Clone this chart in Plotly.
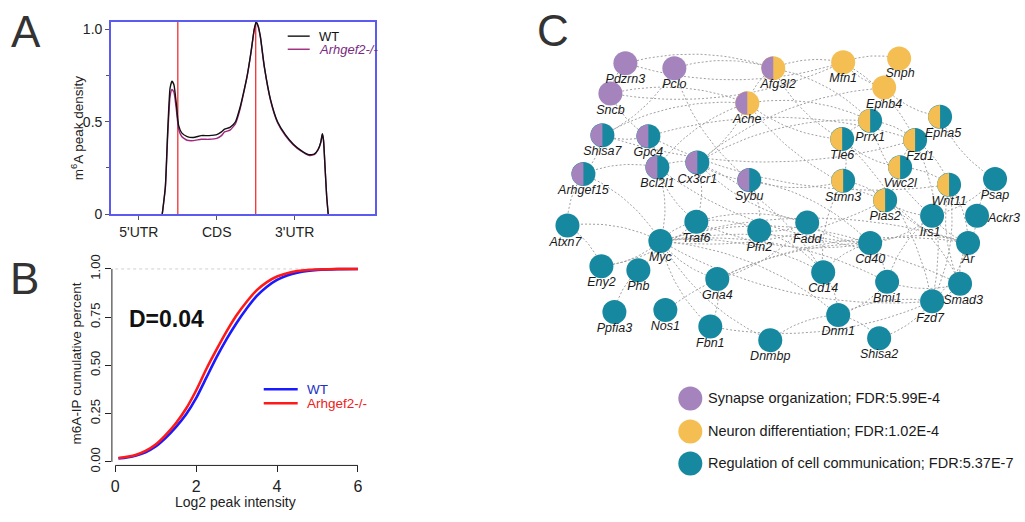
import numpy as np
import plotly.graph_objects as go

W, H = 1025, 522
def px(x): return x / W
def py(y): return 1 - y / H

FONT = "Arial, Liberation Sans, sans-serif"

# ---------------- Panel A data (metagene profile) ----------------
a_regions = ["5'UTR", "CDS", "3'UTR"]
a_region_centers = [0.5, 1.5, 2.5]
a_boundaries = [1, 2]
a_pos = [0.80, 0.84, 0.87, 0.90, 0.925, 0.95, 0.98, 1.01, 1.05, 1.12, 1.20, 1.30, 1.40, 1.50,
         1.56, 1.60, 1.67, 1.74, 1.80, 1.85, 1.89, 1.94, 1.98, 2.005, 2.03, 2.06, 2.11, 2.19,
         2.28, 2.38, 2.48, 2.58, 2.68, 2.75, 2.80, 2.835, 2.855, 2.87, 2.89, 2.91, 2.93]
a_wt = [0.0, 0.15, 0.45, 0.68, 0.72, 0.70, 0.60, 0.48, 0.44, 0.42, 0.415, 0.425, 0.425, 0.43,
        0.445, 0.46, 0.47, 0.50, 0.58, 0.67, 0.75, 0.88, 1.0, 1.04, 1.02, 0.96, 0.80, 0.62,
        0.50, 0.43, 0.38, 0.345, 0.322, 0.325, 0.35, 0.39, 0.435, 0.40, 0.25, 0.10, 0.0]
a_ko = [0.0, 0.14, 0.42, 0.635, 0.675, 0.66, 0.57, 0.46, 0.42, 0.40, 0.398, 0.405, 0.405, 0.41,
        0.425, 0.445, 0.455, 0.49, 0.57, 0.665, 0.745, 0.875, 0.995, 1.035, 1.015, 0.955, 0.795, 0.615,
        0.495, 0.425, 0.376, 0.342, 0.318, 0.322, 0.348, 0.388, 0.433, 0.398, 0.25, 0.10, 0.0]
a_series = ["WT", "Arhgef2-/-"]

# ---------------- Panel B data (cumulative distribution) ----------------
b_x = [0.08, 0.25, 0.5, 0.75, 1.0, 1.25, 1.5, 1.75, 2.0, 2.25, 2.5, 2.75, 3.0, 3.25, 3.5,
       3.75, 4.0, 4.25, 4.5, 4.75, 5.0, 5.5, 6.0]
b_wt = [0.018, 0.022, 0.032, 0.05, 0.08, 0.125, 0.18, 0.245, 0.33, 0.435, 0.54, 0.635, 0.72,
        0.795, 0.86, 0.908, 0.943, 0.966, 0.981, 0.99, 0.995, 0.999, 1.0]
b_ko = [0.02, 0.025, 0.036, 0.057, 0.09, 0.14, 0.20, 0.275, 0.37, 0.48, 0.58, 0.675, 0.76,
        0.83, 0.89, 0.932, 0.961, 0.978, 0.989, 0.995, 0.997, 0.9995, 1.0]
b_stat = "D=0.04"
b_series = ["WT", "Arhgef2-/-"]

# ---------------- Panel C data (gene network) ----------------
categories = ["Synapse organization; FDR:5.99E-4",
              "Neuron differentiation; FDR:1.02E-4",
              "Regulation of cell communication; FDR:5.37E-7"]
cat_keys = ["P", "N", "R"]
genes = ["Pdzrn3", "Pclo", "Afg3l2", "Sncb", "Ache", "Shisa7", "Gpc4", "Bcl2l1", "Cx3cr1",
         "Arhgef15", "Sybu", "Mfn1", "Snph", "Ephb4", "Prrx1", "Epha5", "Tle6", "Fzd1", "Vwc2l",
         "Stmn3", "Wnt11", "Psap", "Atxn7", "Traf6", "Pfn2", "Myc", "Eny2", "Phb", "Gna4",
         "Ppfia3", "Nos1", "Fbn1", "Dnmbp", "Pias2", "Fadd", "Irs1", "Ackr3", "Cd40", "Ar",
         "Cd14", "Bmi1", "Smad3", "Fzd7", "Dnm1", "Shisa2"]
gene_groups = ["P", "P", "PN", "P", "PN", "PR", "PR", "PR", "PR",
               "PR", "PR", "N", "N", "N", "NR", "NR", "NR", "NR", "NR",
               "NR", "NR", "R", "R", "R", "R", "R", "R", "R", "R",
               "R", "R", "R", "R", "NR", "R", "R", "R", "R", "R",
               "R", "R", "R", "R", "R", "R"]
# network layout coordinates
layout_x = [625, 674, 773, 610, 747, 602, 648, 657, 697,
            583, 749, 843, 899, 884, 870, 940, 842, 915, 900,
            843, 949, 995, 567, 696, 759, 660, 601, 638, 717,
            614, 665, 710, 770, 885, 807, 932, 977, 870, 968,
            823, 887, 960, 932, 838, 879]
layout_y = [58, 63, 63, 89, 99, 132, 133, 165, 160,
            172, 178, 57, 53, 83, 117, 113, 136, 137, 165,
            179, 183, 177, 225, 221, 230, 241, 267, 271, 280,
            314, 312, 329, 343, 199, 222, 215, 215, 243, 243,
            273, 283, 285, 303, 317, 341]
edges = [
    ("Pdzrn3", "Sncb"), ("Pdzrn3", "Afg3l2"), ("Pdzrn3", "Mfn1"), ("Pclo", "Afg3l2"),
    ("Pclo", "Sybu"), ("Pclo", "Shisa7"), ("Sncb", "Gpc4"), ("Sncb", "Ache"), ("Sncb", "Mfn1"),
    ("Afg3l2", "Mfn1"), ("Afg3l2", "Ache"), ("Afg3l2", "Prrx1"), ("Afg3l2", "Tle6"),
    ("Mfn1", "Snph"), ("Mfn1", "Ephb4"), ("Mfn1", "Fzd1"), ("Ephb4", "Epha5"),
    ("Ephb4", "Prrx1"), ("Ephb4", "Cx3cr1"), ("Ache", "Prrx1"), ("Ache", "Tle6"),
    ("Ache", "Cx3cr1"), ("Ache", "Bcl2l1"), ("Shisa7", "Ache"), ("Shisa7", "Fzd1"),
    ("Shisa7", "Arhgef15"), ("Shisa7", "Gpc4"), ("Gpc4", "Bcl2l1"), ("Gpc4", "Wnt11"),
    ("Gpc4", "Fzd1"), ("Bcl2l1", "Arhgef15"), ("Bcl2l1", "Cx3cr1"), ("Bcl2l1", "Traf6"),
    ("Bcl2l1", "Myc"), ("Bcl2l1", "Cd40"), ("Cx3cr1", "Traf6"), ("Cx3cr1", "Sybu"),
    ("Cx3cr1", "Cd14"), ("Cx3cr1", "Fadd"), ("Cx3cr1", "Prrx1"), ("Sybu", "Stmn3"),
    ("Sybu", "Pfn2"), ("Arhgef15", "Atxn7"), ("Arhgef15", "Myc"), ("Prrx1", "Tle6"),
    ("Prrx1", "Fzd1"), ("Prrx1", "Irs1"), ("Tle6", "Stmn3"), ("Tle6", "Vwc2l"),
    ("Tle6", "Fzd7"), ("Fzd1", "Epha5"), ("Fzd1", "Wnt11"), ("Fzd1", "Vwc2l"),
    ("Fzd1", "Fzd7"), ("Epha5", "Psap"), ("Vwc2l", "Wnt11"), ("Vwc2l", "Pias2"),
    ("Stmn3", "Pias2"), ("Stmn3", "Cd14"), ("Wnt11", "Fzd7"), ("Wnt11", "Smad3"),
    ("Wnt11", "Ar"), ("Psap", "Ackr3"), ("Psap", "Irs1"), ("Pias2", "Ar"), ("Pias2", "Smad3"),
    ("Pias2", "Irs1"), ("Pias2", "Myc"), ("Irs1", "Ar"), ("Irs1", "Cd40"), ("Irs1", "Bmi1"),
    ("Ackr3", "Ar"), ("Ar", "Smad3"), ("Ar", "Fzd7"), ("Ar", "Cd40"), ("Smad3", "Fzd7"),
    ("Smad3", "Myc"), ("Smad3", "Bmi1"), ("Fzd7", "Dnm1"), ("Cd40", "Traf6"), ("Cd40", "Cd14"),
    ("Cd40", "Fadd"), ("Cd40", "Myc"), ("Cd40", "Bmi1"), ("Cd14", "Myc"), ("Cd14", "Dnm1"),
    ("Bmi1", "Myc"), ("Bmi1", "Dnm1"), ("Dnm1", "Dnmbp"), ("Dnm1", "Shisa2"), ("Dnm1", "Myc"),
    ("Dnmbp", "Myc"), ("Shisa2", "Fzd7"), ("Traf6", "Fadd"), ("Traf6", "Myc"), ("Traf6", "Pfn2"),
    ("Myc", "Atxn7"), ("Myc", "Eny2"), ("Myc", "Gna4"), ("Myc", "Phb"), ("Myc", "Fbn1"),
    ("Atxn7", "Eny2"), ("Phb", "Ppfia3"), ("Gna4", "Fbn1"), ("Gna4", "Fadd"), ("Gna4", "Ar"),
    ("Pfn2", "Fadd"), ("Pfn2", "Cd14"), ("Fbn1", "Fzd7"), ("Nos1", "Cd40"), ("Eny2", "Traf6"),
    ("Myc", "Ar"), ("Myc", "Fzd7"), ("Sybu", "Cd40"), ("Ache", "Pias2"),
]

# ---------------- styles ----------------
COL = {"P": "#A584BE", "N": "#F4BE52", "R": "#16889F"}
A_BOX = "#5B5BF2"
A_WT_COL = "#111111"
A_KO_COL = "#A0287E"
A_KO_TXT = "#7A2A80"
B_WT_COL = "#1A1AFF"
B_KO_COL = "#FF1A1A"

fig = go.Figure()

# ---------- Panel A ----------
fig.add_trace(go.Scatter(x=a_pos, y=a_ko, mode="lines", name=a_series[1],
                         line=dict(color=A_KO_COL, width=1.4, shape="spline", smoothing=0.5),
                         xaxis="x", yaxis="y"))
fig.add_trace(go.Scatter(x=a_pos, y=a_wt, mode="lines", name=a_series[0],
                         line=dict(color=A_WT_COL, width=1.4, shape="spline", smoothing=0.5),
                         xaxis="x", yaxis="y"))

shapes = []
for b in a_boundaries:
    shapes.append(dict(type="line", xref="x", yref="y domain", x0=b, x1=b, y0=0, y1=1,
                       line=dict(color="#EE2020", width=1.2), layer="below"))
for c, yy in [(A_WT_COL, 30), (A_KO_COL, 43.5)]:
    shapes.append(dict(type="line", xref="paper", yref="paper", x0=px(287), x1=px(309),
                       y0=py(yy), y1=py(yy), line=dict(color=c, width=1.4)))

# ---------- Panel B ----------
fig.add_trace(go.Scatter(x=b_x, y=b_wt, mode="lines", name=b_series[0],
                         line=dict(color=B_WT_COL, width=2.6, shape="spline", smoothing=0.6),
                         xaxis="x2", yaxis="y2"))
fig.add_trace(go.Scatter(x=b_x, y=b_ko, mode="lines", name=b_series[1],
                         line=dict(color=B_KO_COL, width=2.6, shape="spline", smoothing=0.6),
                         xaxis="x2", yaxis="y2"))
shapes.append(dict(type="line", xref="x2", yref="y2", x0=0, x1=6, y0=1, y1=1,
                   line=dict(color="#D0D0D0", width=1, dash="dot"), layer="below"))
shapes.append(dict(type="line", xref="x2 domain", yref="y2", x0=0, x1=0, y0=0, y1=1,
                   line=dict(color="#222", width=1)))
shapes.append(dict(type="line", xref="x2", yref="y2 domain", x0=0, x1=6, y0=0, y1=0,
                   line=dict(color="#222", width=1)))
for c, yy in [(B_WT_COL, 393.5), (B_KO_COL, 408)]:
    shapes.append(dict(type="line", xref="paper", yref="paper", x0=px(263), x1=px(297),
                       y0=py(yy), y1=py(yy), line=dict(color=c, width=2.6)))

# ---------- Panel C ----------
idx = {g: i for i, g in enumerate(genes)}
ex, ey = [], []
t = np.linspace(0, 1, 24)
for k, (g1, g2) in enumerate(edges):
    x0, y0 = layout_x[idx[g1]], layout_y[idx[g1]]
    x1, y1 = layout_x[idx[g2]], layout_y[idx[g2]]
    mx, my = (x0 + x1) / 2, (y0 + y1) / 2
    dx, dy = x1 - x0, y1 - y0
    s = 0.16 if k % 2 == 0 else -0.16
    cx, cy = mx - dy * s, my + dx * s
    bx = (1 - t) ** 2 * x0 + 2 * (1 - t) * t * cx + t ** 2 * x1
    by = (1 - t) ** 2 * y0 + 2 * (1 - t) * t * cy + t ** 2 * y1
    ex += list(bx) + [None]
    ey += list(by) + [None]
fig.add_trace(go.Scatter(x=ex, y=ey, mode="lines", hoverinfo="skip",
                         line=dict(color="#A0A0A0", width=1, dash="2px,2px"),
                         xaxis="x3", yaxis="y3"))

right_cols = [COL[g[-1]] for g in gene_groups]
fig.add_trace(go.Scatter(x=layout_x, y=layout_y, mode="markers", text=genes,
                         marker=dict(size=24, color=right_cols, line=dict(width=0)),
                         xaxis="x3", yaxis="y3"))
R = 12
th = np.linspace(np.pi / 2, 3 * np.pi / 2, 40)
for key in cat_keys:
    hx, hy = [], []
    for g, grp, x, y in zip(genes, gene_groups, layout_x, layout_y):
        if len(grp) == 2 and grp[0] == key:
            hx += list(x + R * np.cos(th)) + [None]
            hy += list(y + R * np.sin(th)) + [None]
    if hx:
        fig.add_trace(go.Scatter(x=hx, y=hy, mode="lines", fill="toself", fillcolor=COL[key],
                                 line=dict(width=0, color=COL[key]), hoverinfo="skip",
                                 xaxis="x3", yaxis="y3"))

label_adj = {"Afg3l2": (5, 0), "Epha5": (3, 0), "Fzd1": (5, 0), "Smad3": (3, 0),
             "Snph": (1, -2), "Atxn7": (-2, 0), "Irs1": (-2, 0), "Fzd7": (-2, 1)}
lx, ly, lpos = [], [], []
for g, x, y in zip(genes, layout_x, layout_y):
    if g == "Ackr3":
        lx.append(x + 11); ly.append(y + 3); lpos.append("middle right")
    else:
        ddx, ddy = label_adj.get(g, (0, 0))
        lx.append(x + ddx); ly.append(y + 17.5 + ddy); lpos.append("middle center")
fig.add_trace(go.Scatter(x=lx, y=ly, mode="text", text=[f"<i>{g}</i>" for g in genes],
                         textposition=lpos, hoverinfo="skip",
                         textfont=dict(family=FONT, size=12.5, color="#1a1a1a"),
                         xaxis="x3", yaxis="y3"))

leg_y = [403, 437, 470]
fig.add_trace(go.Scatter(x=[690] * 3, y=leg_y, mode="markers",
                         marker=dict(size=24, color=[COL[k] for k in cat_keys]),
                         xaxis="x3", yaxis="y3"))

annotations = []
def ann(x, y, text, size, color="#222", xanchor="center", angle=0, xref="paper", yref="paper"):
    annotations.append(dict(x=x, y=y, xref=xref, yref=yref, text=text, showarrow=False,
                            xanchor=xanchor, yanchor="middle", textangle=angle,
                            font=dict(family=FONT, size=size, color=color)))

for ttl, yy in zip(categories, leg_y):
    ann(706, yy, ttl, 14.5, "#1a1a1a", "left", xref="x3", yref="y3")

for L_, x_, y_ in [("A", 25, 25), ("B", 24, 280), ("C", 553, 24)]:
    ann(px(x_), py(y_), L_, 44, "#333333")

ann(px(77), py(124), "m<sup>6</sup>A peak density", 13.5, "#222", angle=-90)
ann(px(316), py(30), a_series[0], 13, "#111", "left")
ann(px(316), py(43.5), f"<i>{a_series[1]}</i>", 13, A_KO_TXT, "left")

ann(px(76), py(367), "m6A-IP cumulative percent", 13.5, "#222", angle=-90)
ann(px(235), py(510), "Log2 peak intensity", 14, "#222")
ann(px(166), py(321), f"<b>{b_stat}</b>", 23, "#111")
ann(px(304), py(393.5), b_series[0], 13.5, "#2030C8", "left")
ann(px(304), py(408), b_series[1], 13.5, "#EE2020", "left")

fig.update_layout(
    width=W, height=H, margin=dict(l=0, r=0, t=0, b=0, pad=0), autosize=False,
    paper_bgcolor="white", plot_bgcolor="white", showlegend=False,
    font=dict(family=FONT, color="#222"),
    xaxis=dict(domain=[px(110), px(374)], range=[0.141, 3.526], anchor="y",
               tickvals=a_region_centers, ticktext=a_regions, ticks="outside", ticklen=4,
               tickcolor="#555", tickfont=dict(size=14, color="#222"),
               showline=True, linecolor=A_BOX, linewidth=1.5, mirror=True,
               showgrid=False, zeroline=False),
    yaxis=dict(domain=[py(213.3), py(15)], range=[0, 1.042], anchor="x",
               tickvals=[0, 0.5, 1.0], ticktext=["0", "0.5", "1.0"],
               ticks="outside", ticklen=4, tickcolor="#555",
               minor=dict(tickvals=[0.25, 0.75], ticks="outside", ticklen=3,
                          tickcolor="#555", showgrid=False),
               tickfont=dict(size=14, color="#222"),
               showline=True, linecolor=A_BOX, linewidth=1.5, mirror=True,
               showgrid=False, zeroline=False),
    xaxis2=dict(domain=[px(111), px(362)], range=[-0.0815, 6.116], anchor="y2",
                tickvals=[0, 2, 4, 6], ticks="outside", ticklen=6, tickcolor="#222",
                tickfont=dict(size=16, color="#222"), showline=False, showgrid=False,
                zeroline=False),
    yaxis2=dict(domain=[py(472), py(262)], range=[-0.0186, 1.0388], anchor="x2",
                tickvals=[0, 0.25, 0.5, 0.75, 1.0],
                ticktext=["0.00", "0.25", "0.50", "0.75", "1.00"], tickangle=-90,
                ticks="outside", ticklen=6, tickcolor="#222",
                tickfont=dict(size=13, color="#222"), showline=False, showgrid=False,
                zeroline=False),
    xaxis3=dict(domain=[px(540), 1.0], range=[540, 1025], anchor="y3", visible=False),
    yaxis3=dict(domain=[0, 1], range=[522, 0], anchor="x3", visible=False),
    shapes=shapes, annotations=annotations,
)

post = "document.body.style.margin='0';document.body.style.overflow='hidden';"
fig.write_html("out.html", config={"displayModeBar": False}, post_script=post)
